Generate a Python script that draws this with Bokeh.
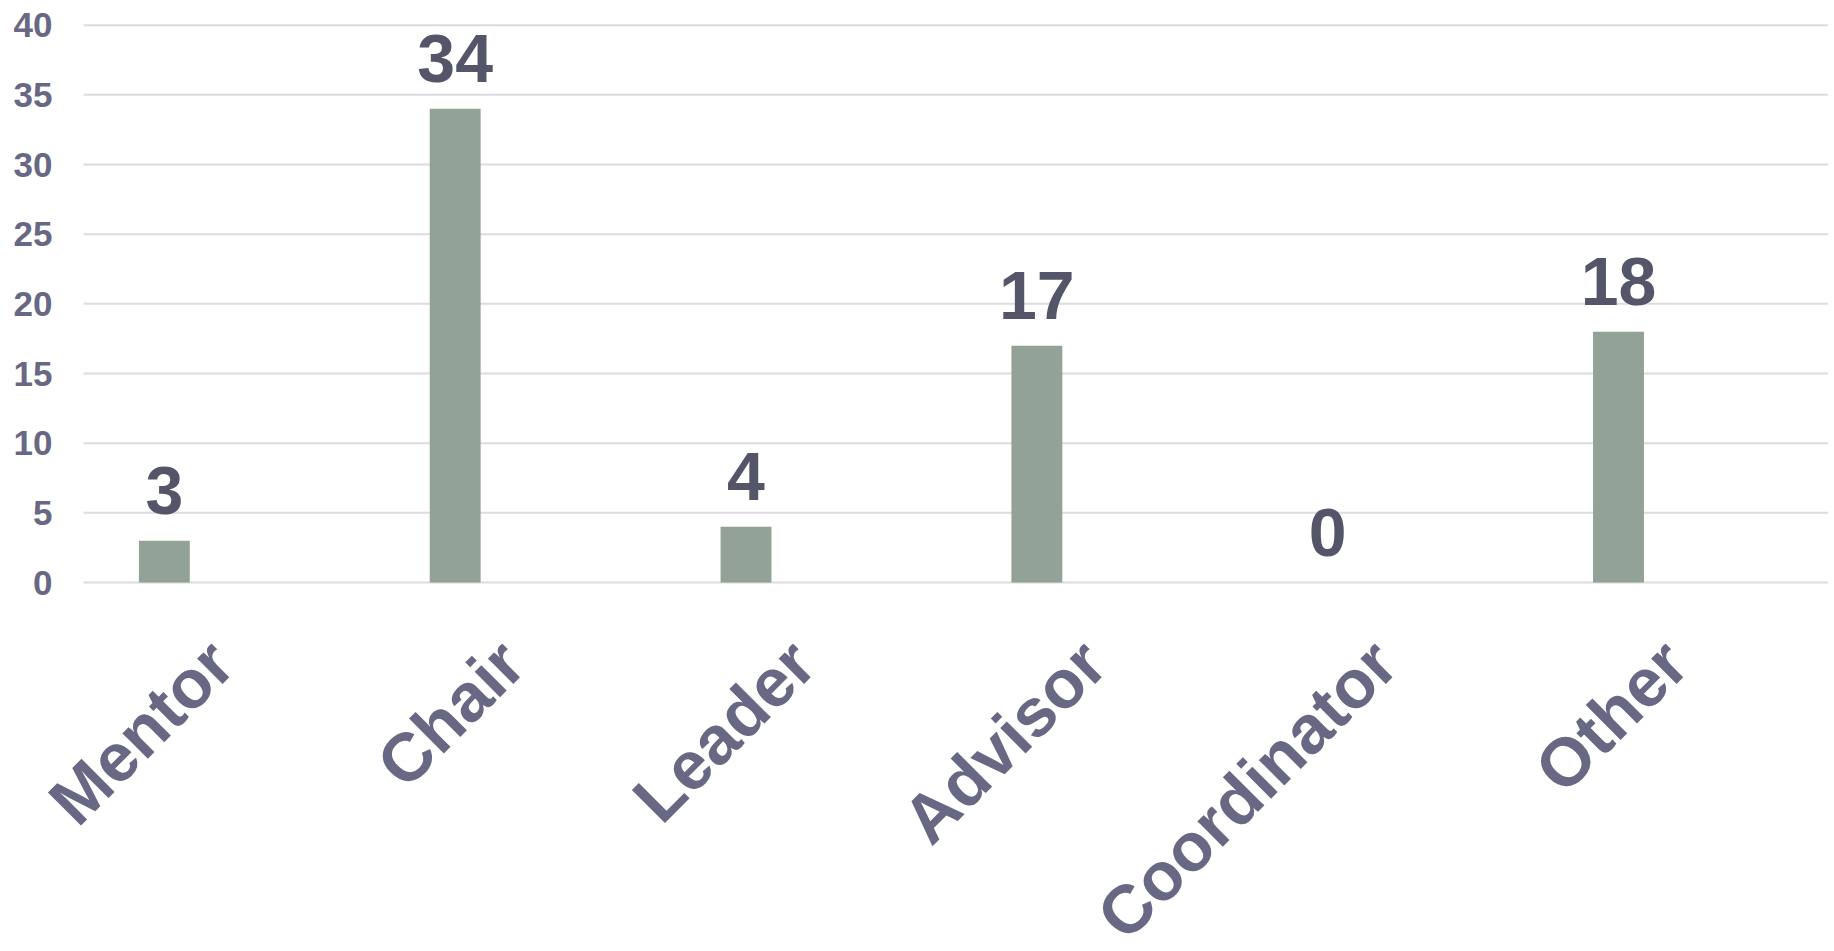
import math
from bokeh.plotting import figure
from bokeh.models import Range1d, ColumnDataSource, LabelSet
from bokeh.core.properties import value
from bokeh.embed import file_html
from bokeh.resources import INLINE

categories = ["Mentor", "Chair", "Leader", "Advisor", "Coordinator", "Other"]
counts = [3, 34, 4, 17, 0, 18]
y_ticks = [0, 5, 10, 15, 20, 25, 30, 35, 40]

FONT = "Liberation Sans"
TICK_COLOR = "#686884"
LABEL_COLOR = "#555569"
BAR_COLOR = "#92A297"
GRID_COLOR = "#DCDCE2"

# layout constants (pixels)
W, H = 1828, 950
PLOT_LEFT = 83          # left end of the gridlines
PLOT_RIGHT = 1828       # right end of the gridlines
Y_TOP_PX = 24.7         # pixel row of the top gridline
Y_ZERO_PX = 582         # pixel row of the baseline
N = len(categories)
Y_MAX = y_ticks[-1]

PX_X = (PLOT_RIGHT - PLOT_LEFT) / N            # pixels per category
PX_Y = (Y_ZERO_PX - Y_TOP_PX) / Y_MAX          # pixels per unit

BAR_POS = 0.278         # bar centre within its category slot
BAR_W = 0.175
VAL_GAP = 27            # px between bar top and its value label
TICK_GAP = 31           # px between tick label and plot area
LABEL_DX = -8           # px shift of rotated category labels
LABEL_DY = 69           # px below the baseline

p = figure(
    x_range=Range1d(-PLOT_LEFT / PX_X, (W - PLOT_LEFT) / PX_X),
    y_range=Range1d(-(H - Y_ZERO_PX) / PX_Y, Y_ZERO_PX / PX_Y),
    frame_width=W, frame_height=H,
    min_border_left=0, min_border_top=0, min_border_right=0, min_border_bottom=0,
    x_axis_location=None, y_axis_location=None,
    output_backend="svg", toolbar_location=None,
)
p.outline_line_color = None
p.background_fill_color = "white"
p.xgrid.grid_line_color = None
p.ygrid.grid_line_color = None

idx = list(range(N))

# horizontal gridlines
p.segment(x0=[0] * len(y_ticks), x1=[N] * len(y_ticks), y0=y_ticks, y1=y_ticks,
          line_color=GRID_COLOR, line_width=2)

# y tick labels
p.text(x=[-TICK_GAP / PX_X] * len(y_ticks), y=y_ticks, text=[str(t) for t in y_ticks],
       text_align="right", text_baseline="middle",
       text_font=value(FONT), text_font_style="bold", text_font_size="35px",
       text_color=TICK_COLOR)

# bars
src = ColumnDataSource(dict(
    xbar=[i + BAR_POS for i in idx],
    val=counts,
    txt=[str(v) for v in counts],
))
p.vbar(x="xbar", top="val", width=BAR_W, bottom=0,
       source=src, fill_color=BAR_COLOR, line_color=None)

# value labels
p.add_layout(LabelSet(x="xbar", y="val", text="txt", source=src,
                      y_offset=VAL_GAP, text_align="center", text_baseline="alphabetic",
                      text_font=value(FONT), text_font_style="bold", text_font_size="68px",
                      text_color=LABEL_COLOR))

# rotated category labels
p.text(x=[i + 0.5 + LABEL_DX / PX_X for i in idx], y=[-LABEL_DY / PX_Y] * N, text=categories,
       angle=math.pi / 4, text_align="right", text_baseline="middle",
       text_font=value(FONT), text_font_style="bold", text_font_size="68px",
       text_color=TICK_COLOR)

open("out.html", "w").write(file_html(p, INLINE))
